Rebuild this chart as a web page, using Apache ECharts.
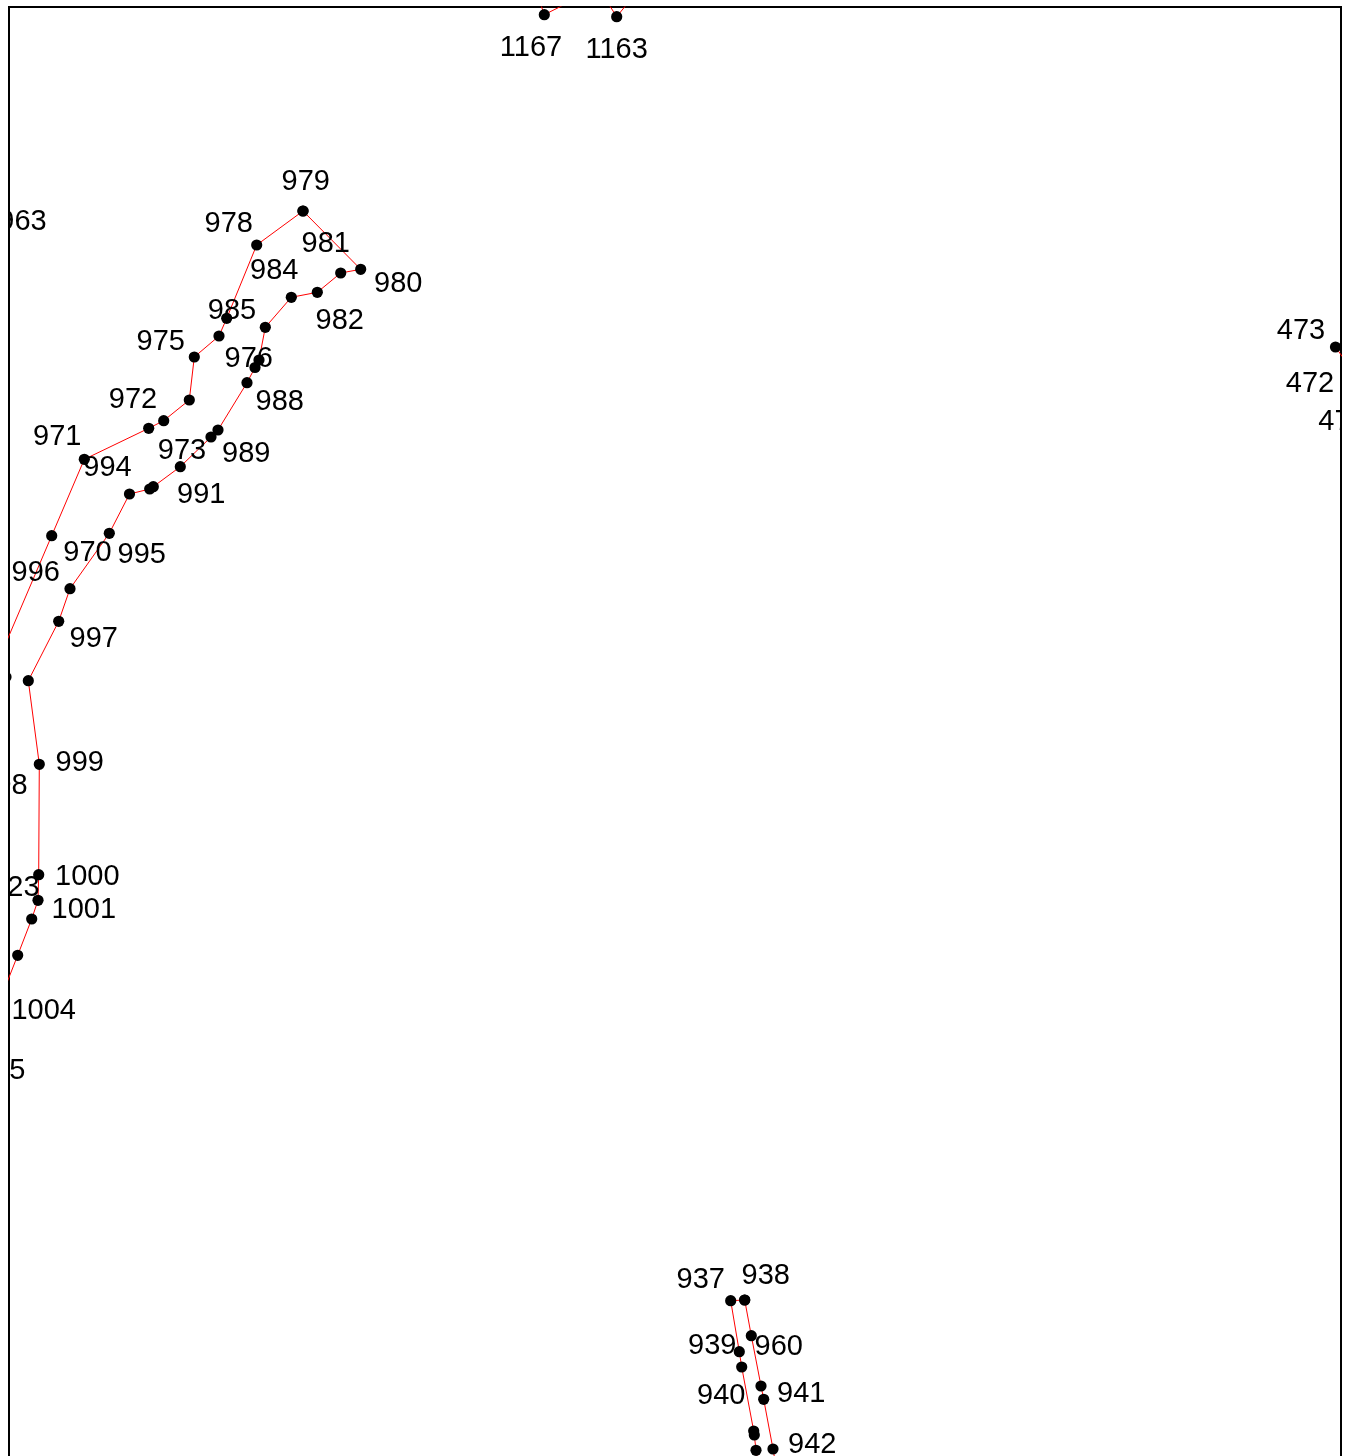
<!DOCTYPE html>
<html>
<head>
<meta charset="utf-8">
<script src="https://cdn.jsdelivr.net/npm/echarts@6/dist/echarts.min.js"></script>
<style>
html,body{margin:0;padding:0;background:#ffffff;}
#chart{width:1351px;height:1456px;}
</style>
</head>
<body>
<div id="chart"></div>
<script>
// ---- data (map units, y grows downward) ----
const chainWest = [[294,204],[247.7,238],[217.7,311.3],[210,329],[185.3,350],[180.3,393],[154.7,413.7],[139.7,421.3],[75.3,452.3],[42.7,528.7],[-29,696.6]];
const chainEast = [[294,204],[351.7,262.3],[331.7,266],[308.3,285.3],[282.3,290.3],[256.3,320.3],[250,353],[246,360.5],[238,375.7],[209,423],[202,430],[171.3,459.7],[144.3,479.7],[140.7,482],[120.5,487],[100.3,526.3],[61,581.7],[49.7,614.3],[19.3,673.7],[30.3,757.3],[29.7,867.7],[29,893.3],[22.7,912],[8.7,948.3],[-29,1044]];
const chain1167 = [[527.5,-14.5],[535.3,7.7],[579.4,-14.5]];
const chain1163 = [[592.7,-13.8],[607.7,9.7],[626.7,-13.8]];
const chain473 = [[1326.5,340],[1347,369]];
const chain937 = [[735.7,1293],[721.7,1293.7],[730.3,1344.7],[732.7,1360],[744.7,1424],[745.3,1428],[747,1443.3],[754,1483]];
const chain938 = [[735.7,1293],[742.3,1328.7],[752,1379],[754.7,1392.3],[764,1442],[771,1483]];
const loneDots = [[-3,670]];

const labelText = ['1167','1163','979','978','963','981','984','980','985','982','975','976','972','988','971','973','989','994','991','970','995','996','997','998','999','1000','1023','1001','1004','1005','473','472','471','937','938','939','960','940','941','942'];
const labelPos = [[522,39],[607.7,41],[296.8,172.7],[219.7,215.3],[13.5,212.7],[316.8,234.7],[265.2,261.8],[389.3,274.7],[223,302.3],[330.7,312],[151.8,332.7],[239.8,350.3],[124,391],[270.7,392.7],[48.2,427.5],[173,442.2],[237.3,444.7],[98.5,459.3],[192.3,486.3],[78.5,543.5],[132.7,545.7],[26.8,563.7],[84.8,629.7],[-5.5,777],[70.7,754.3],[78.3,868],[-1.7,879],[74.8,900.7],[34.7,1001.7],[-15.8,1062],[1292,322],[1301,374.7],[1333.5,413],[691.8,1270.8],[756.8,1267.2],[703.2,1336.7],[769.8,1337.5],[712.3,1386.7],[792.3,1384.7],[803.2,1436.3]];

const chains = [chainWest, chainEast, chain1167, chain1163, chain473, chain937, chain938];
const allDots = [].concat(...chains, loneDots);

const chart = echarts.init(document.getElementById('chart'), null, {renderer:'canvas'});

const lineSeries = chains.map(c => ({
  type: 'line',
  data: c,
  symbol: 'none',
  showSymbol: false,
  clip: true,
  silent: true,
  animation: false,
  lineStyle: {color: '#ff0000', width: 1},
  z: 2
}));

chart.setOption({
  backgroundColor: '#ffffff',
  animation: false,
  grid: {
    left: 9, top: 7, width: 1332, height: 1600,
    outerBoundsMode: 'none',
    show: true, borderColor: '#000000', borderWidth: 2, backgroundColor: 'transparent'
  },
  xAxis: {type: 'value', min: 0, max: 1332, show: false},
  yAxis: {type: 'value', min: 0, max: 1600, inverse: true, show: false},
  series: lineSeries.concat([
    {
      type: 'custom',
      clip: true,
      silent: true,
      animation: false,
      z: 3,
      data: allDots,
      encode: {x: 0, y: 1},
      renderItem: function (params, api) {
        const p = api.coord([api.value(0), api.value(1)]);
        return {type: 'circle', shape: {cx: p[0], cy: p[1], r: 5.6}, style: {fill: '#000000'}};
      }
    },
    {
      type: 'custom',
      clip: true,
      silent: true,
      animation: false,
      z: 4,
      data: labelPos,
      encode: {x: 0, y: 1},
      renderItem: function (params, api) {
        const p = api.coord([api.value(0), api.value(1)]);
        return {
          type: 'text',
          x: p[0], y: p[1] + 2,
          style: {
            text: labelText[params.dataIndex],
            fill: '#000000',
            fontSize: 29,
            fontFamily: '"Liberation Sans", Arial, sans-serif',
            align: 'center',
            verticalAlign: 'middle'
          }
        };
      }
    }
  ])
});
</script>
</body>
</html>
